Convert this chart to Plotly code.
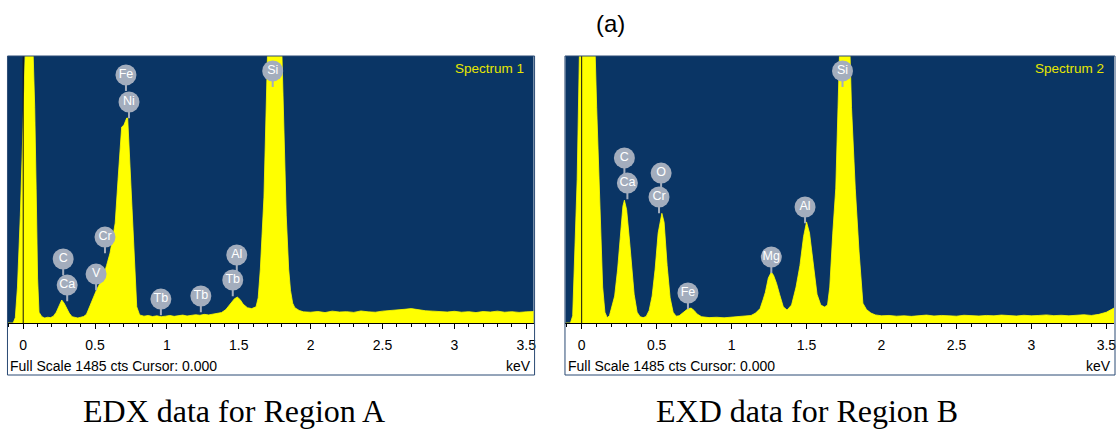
import plotly.graph_objects as go

W, H = 1119, 433

# ---------------- data: Region A (Spectrum 1) ----------------
energy_a = [-0.106, -0.07, -0.055, -0.04, -0.02, 0.0, 0.014, 0.069, 0.08, 0.09, 0.10, 0.11, 0.13,
            0.15, 0.17, 0.19, 0.21, 0.23, 0.25, 0.268, 0.285, 0.30, 0.32, 0.34, 0.36, 0.38, 0.40,
            0.42, 0.44, 0.465, 0.49, 0.51, 0.53, 0.556, 0.58, 0.604, 0.62, 0.64, 0.66, 0.685, 0.70,
            0.72, 0.727, 0.75, 0.77, 0.79, 0.81, 0.84, 0.87, 0.90, 0.93, 0.96, 0.99, 1.02, 1.05,
            1.08, 1.11, 1.14, 1.17, 1.20, 1.23, 1.26, 1.29, 1.32, 1.35, 1.38, 1.41, 1.44, 1.47,
            1.49, 1.51, 1.53, 1.56, 1.59, 1.62, 1.635, 1.65, 1.675, 1.69, 1.70, 1.80, 1.815, 1.83,
            1.847, 1.86, 1.875, 1.89, 1.92, 1.95, 2.00, 2.05, 2.10, 2.15, 2.20, 2.25, 2.30, 2.35,
            2.40, 2.45, 2.50, 2.55, 2.60, 2.65, 2.70, 2.75, 2.80, 2.85, 2.90, 2.95, 3.00, 3.05,
            3.10, 3.15, 3.20, 3.25, 3.30, 3.35, 3.40, 3.45, 3.50, 3.556]
counts_a = [0, 0, 30, 200, 600, 1100, 1500, 1500, 1200, 750, 250, 60, 35,
            28, 32, 30, 38, 60, 95, 128, 110, 85, 55, 35, 30, 28, 32,
            36, 48, 100, 150, 184, 215, 256, 320, 389, 460, 556, 800, 1090, 1100,
            1140, 1140, 750, 420, 90, 45, 38, 42, 36, 40, 35, 38, 42, 37,
            40, 44, 39, 42, 46, 43, 48, 45, 50, 52, 58, 75, 105, 135,
            144, 130, 105, 85, 80, 90, 140, 300, 700, 1200, 1500, 1500, 1000, 600,
            300, 180, 110, 85, 70, 62, 60, 64, 58, 66, 61, 63, 59, 67,
            62, 60, 66, 68, 72, 76, 80, 72, 68, 66, 64, 61, 65, 60,
            63, 58, 64, 61, 66, 60, 63, 59, 62, 64]

labels_a_text = ["Fe", "Ni", "Si", "C", "Ca", "V", "Cr", "Tb", "Tb", "Tb", "Al"]
labels_a_x = [0.715, 0.736, 1.736, 0.278, 0.306, 0.507, 0.569, 0.958, 1.236, 1.458, 1.486]
labels_a_y = [1380, 1229, 1402, 356, 211, 272, 478, 133, 150, 239, 378]

# ---------------- data: Region B (Spectrum 2) ----------------
energy_b = [-0.108, -0.075, -0.06, -0.045, -0.03, -0.015, 0.09, 0.10, 0.12, 0.14, 0.155, 0.17,
            0.185, 0.20, 0.22, 0.24, 0.26, 0.275, 0.285, 0.30, 0.32, 0.335, 0.35, 0.37, 0.39,
            0.41, 0.43, 0.45, 0.47, 0.49, 0.51, 0.535, 0.55, 0.57, 0.59, 0.61, 0.63, 0.65, 0.68,
            0.71, 0.73, 0.75, 0.77, 0.80, 0.85, 0.90, 0.95, 1.00, 1.05, 1.10, 1.13, 1.16, 1.19,
            1.21, 1.225, 1.245, 1.265, 1.28, 1.30, 1.32, 1.345, 1.37, 1.40, 1.43, 1.456, 1.48,
            1.50, 1.52, 1.545, 1.57, 1.595, 1.62, 1.64, 1.655, 1.675, 1.695, 1.71, 1.72, 1.79,
            1.80, 1.825, 1.85, 1.876, 1.90, 1.93, 1.96, 2.00, 2.05, 2.10, 2.15, 2.20, 2.25, 2.30,
            2.35, 2.40, 2.45, 2.50, 2.55, 2.60, 2.65, 2.70, 2.75, 2.80, 2.85, 2.90, 2.95, 3.00,
            3.05, 3.10, 3.15, 3.20, 3.25, 3.30, 3.35, 3.40, 3.45, 3.50, 3.551]
counts_b = [0, 0, 40, 400, 800, 1500, 1500, 1200, 750, 200, 60, 30,
            40, 90, 150, 300, 520, 650, 683, 630, 450, 300, 160, 60, 35,
            30, 36, 70, 150, 300, 500, 610, 560, 320, 140, 60, 38, 40, 60,
            80, 83, 70, 50, 35, 30, 32, 29, 33, 36, 38, 42, 55, 80,
            130, 170, 250, 283, 265, 220, 160, 90, 72, 100, 200, 320, 480,
            562, 500, 320, 160, 100, 89, 100, 200, 500, 750, 1200, 1500, 1500,
            1200, 750, 400, 110, 75, 55, 45, 40, 42, 38, 40, 37, 41, 44,
            39, 42, 40, 38, 43, 41, 39, 42, 40, 44, 41, 39, 43, 40,
            42, 45, 41, 43, 40, 44, 46, 42, 48, 60, 83]

labels_b_text = ["Si", "C", "Ca", "O", "Cr", "Fe", "Mg", "Al"]
labels_b_x = [1.74, 0.285, 0.305, 0.53, 0.516, 0.709, 1.265, 1.49]
labels_b_y = [1402, 918, 778, 834, 701, 167, 367, 645]

full_scale = 1485
tick_vals = [0, 0.5, 1, 1.5, 2, 2.5, 3, 3.5]
tick_text = ["0", "0.5", "1", "1.5", "2", "2.5", "3", "3.5"]
panel_names = ["Spectrum 1", "Spectrum 2"]
captions = ["EDX data for Region A", "EXD data for Region B"]

# ---------------- styling ----------------
BG = "#0a3565"
YEL = "#ffff00"
LBL = "#a3adbd"


def py(ypix):
    return (H - ypix) / H


def px(xpix):
    return xpix / W


fig = go.Figure()

panels = [
    dict(e=energy_a, c=counts_a, lt=labels_a_text, lx=labels_a_x, ly=labels_a_y,
         xa="x", ya="y", x0=8, x1=535, rng=[-0.106, 3.551]),
    dict(e=energy_b, c=counts_b, lt=labels_b_text, lx=labels_b_x, ly=labels_b_y,
         xa="x2", ya="y2", x0=567, x1=1117, rng=[-0.108, 3.551]),
]

stem = 90
for p in panels:
    fig.add_trace(go.Scatter(x=p["e"], y=p["c"], mode="lines", fill="tozeroy",
                             fillcolor=YEL, line=dict(color=YEL, width=0.8),
                             xaxis=p["xa"], yaxis=p["ya"], hoverinfo="skip", showlegend=False))
    sx, sy = [], []
    for xv, yv in zip(p["lx"], p["ly"]):
        sx += [xv, xv, None]
        sy += [yv, yv - stem, None]
    fig.add_trace(go.Scatter(x=sx, y=sy, mode="lines", line=dict(color=LBL, width=2),
                             xaxis=p["xa"], yaxis=p["ya"], hoverinfo="skip", showlegend=False))
    fig.add_trace(go.Scatter(x=p["lx"], y=p["ly"], mode="markers+text", text=p["lt"],
                             textposition="middle center",
                             textfont=dict(family="Arial", size=12.5, color="white"),
                             marker=dict(symbol="circle", size=21, color=LBL, line=dict(width=0)),
                             xaxis=p["xa"], yaxis=p["ya"], hoverinfo="skip", showlegend=False))

ydom = [py(323), py(56)]
axis_common = dict(tickvals=tick_vals, ticktext=tick_text, ticks="outside", ticklen=5,
                   tickcolor="black", tickwidth=1, showline=True, linecolor="black",
                   linewidth=1, showgrid=False, zeroline=False,
                   tickfont=dict(family="Arial", size=14, color="black"),
                   ticklabelstandoff=4,
                   minor=dict(dtick=0.1, tick0=0, ticks="outside", ticklen=3,
                              tickcolor="black", showgrid=False))

fig.update_layout(
    width=W, height=H, margin=dict(l=0, r=0, t=0, b=0),
    paper_bgcolor="white", plot_bgcolor=BG, showlegend=False,
    xaxis=dict(domain=[px(8), px(535)], range=panels[0]["rng"], anchor="y", **axis_common),
    xaxis2=dict(domain=[px(567), px(1117)], range=panels[1]["rng"], anchor="y2", **axis_common),
    yaxis=dict(domain=ydom, range=[0, full_scale], visible=False, anchor="x"),
    yaxis2=dict(domain=ydom, range=[0, full_scale], visible=False, anchor="x2"),
)

shapes = []
annots = []
for i, p in enumerate(panels):
    xa = p["xa"]
    dref = xa + " domain"
    # cursor line at 0 keV
    shapes.append(dict(type="line", xref=xa, yref=p["ya"] + " domain", x0=0, x1=0, y0=0, y1=1,
                       line=dict(color="#111111", width=1), layer="above"))
    # panel frame
    shapes.append(dict(type="rect", xref="paper", yref="paper",
                       x0=px(p["x0"] - 0.5), x1=px(p["x1"] + 1), y0=py(375), y1=py(56),
                       line=dict(color="#2a4a74", width=1), layer="above"))
    annots.append(dict(text=panel_names[i], xref=dref, yref="paper", x=0.985, y=py(68),
                       xanchor="right", yanchor="middle", showarrow=False,
                       font=dict(family="Arial", size=13.5, color="#e8e800")))
    annots.append(dict(text="Full Scale 1485 cts Cursor: 0.000", xref="paper", yref="paper",
                       x=px(p["x0"] + 0.5), y=py(366), xanchor="left", yanchor="middle",
                       showarrow=False, font=dict(family="Arial", size=14, color="black")))
    annots.append(dict(text="keV", xref="paper", yref="paper",
                       x=px(p["x1"] - 1), y=py(366), xanchor="right", yanchor="middle",
                       showarrow=False, font=dict(family="Arial", size=14, color="black")))

annots.append(dict(text="(a)", xref="paper", yref="paper", x=px(612), y=py(23),
                   xanchor="center", yanchor="middle", showarrow=False,
                   font=dict(family="Arial", size=24, color="black")))
annots.append(dict(text=captions[0], xref="paper", yref="paper", x=px(235), y=py(411),
                   xanchor="center", yanchor="middle", showarrow=False,
                   font=dict(family="Liberation Serif", size=32, color="black")))
annots.append(dict(text=captions[1], xref="paper", yref="paper", x=px(809), y=py(411),
                   xanchor="center", yanchor="middle", showarrow=False,
                   font=dict(family="Liberation Serif", size=32, color="black")))

fig.update_layout(shapes=shapes, annotations=annots)
fig.write_html("out.html",
               config={"displayModeBar": False, "staticPlot": True},
               post_script="document.body.style.margin='0';document.body.style.padding='0';"
                           "document.body.style.overflow='hidden';")
